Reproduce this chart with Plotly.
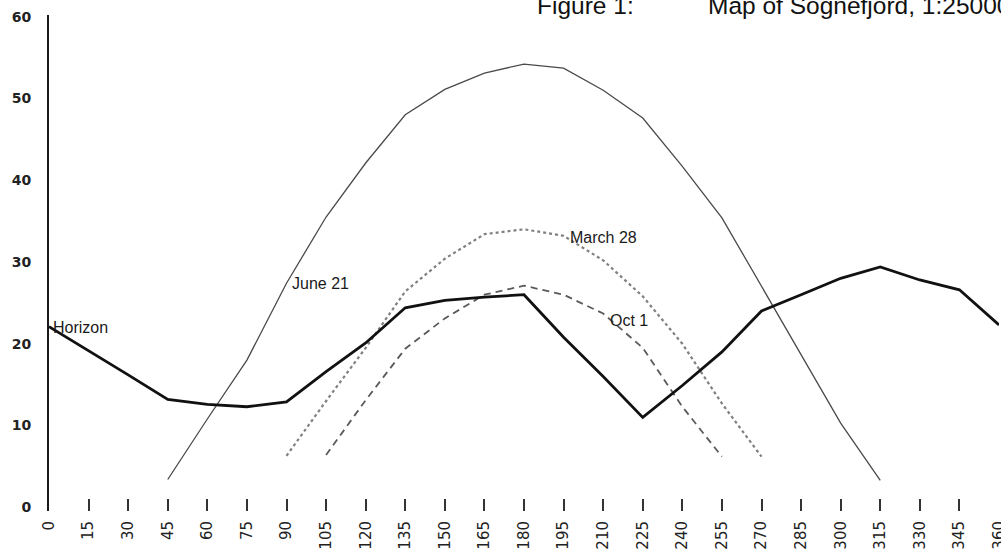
import plotly.graph_objects as go

# Azimuth (degrees) and horizon elevation (degrees)
azimuth = [0, 15, 30, 45, 60, 75, 90, 105, 120, 135, 150, 165, 180,
           195, 210, 225, 240, 255, 270, 285, 300, 315, 330, 345, 360]
horizon = [22.1, 19.2, 16.2, 13.2, 12.6, 12.3, 12.9, 16.6, 20.1, 24.4, 25.3, 25.7, 26.0,
           20.8, 16.0, 11.0, 14.9, 19.0, 24.0, 26.0, 28.0, 29.4, 27.8, 26.6, 22.3]

# Sun paths
june21_az = [45, 60, 75, 90, 105, 120, 135, 150, 165, 180, 195, 210, 225, 240, 255, 270, 285, 300, 315]
june21_el = [3.4, 10.8, 18.0, 27.4, 35.5, 42.1, 48.0, 51.1, 53.1, 54.2, 53.7, 51.0, 47.6, 41.7, 35.4, 27.0, 18.6, 10.3, 3.3]

march28_az = [90, 105, 120, 135, 150, 165, 180, 195, 210, 225, 240, 255, 270]
march28_el = [6.3, 13.0, 19.5, 26.4, 30.4, 33.4, 34.0, 33.2, 30.2, 25.8, 20.0, 12.7, 6.2]

oct1_az = [105, 120, 135, 150, 165, 180, 195, 210, 225, 240, 255]
oct1_el = [6.4, 13.1, 19.4, 23.1, 26.0, 27.1, 26.0, 23.7, 19.5, 12.3, 6.2]

x_ticks = azimuth
y_ticks = [0, 10, 20, 30, 40, 50, 60]

FONT = "Liberation Sans, Arial, sans-serif"

fig = go.Figure()
fig.add_trace(go.Scatter(x=june21_az, y=june21_el, mode="lines",
                         line=dict(color="#4a4a4a", width=1.3), cliponaxis=False))
fig.add_trace(go.Scatter(x=march28_az, y=march28_el, mode="lines",
                         line=dict(color="#808080", width=2.2, dash="dot"), cliponaxis=False))
fig.add_trace(go.Scatter(x=oct1_az, y=oct1_el, mode="lines",
                         line=dict(color="#5a5a5a", width=1.8, dash="7px,5px"), cliponaxis=False))
fig.add_trace(go.Scatter(x=azimuth, y=horizon, mode="lines",
                         line=dict(color="#111111", width=2.8), cliponaxis=False))

ann_font = dict(family=FONT, size=16, color="#1a1a1a")
for txt, ax, ay in [("Horizon", 1.5, 22.0), ("June 21", 92.1, 27.4),
                    ("March 28", 197.4, 33.0), ("Oct 1", 212.6, 22.9)]:
    fig.add_annotation(x=ax, y=ay, text=txt, showarrow=False, xanchor="left",
                       yanchor="middle", xshift=-2, font=ann_font)

title_font = dict(family=FONT, size=24.5, color="#111111")
fig.add_annotation(xref="paper", yref="paper", x=0.5115, y=1.019, text="Figure 1:",
                   showarrow=False, xanchor="left", yanchor="middle", font=title_font)
fig.add_annotation(xref="paper", yref="paper", x=0.6915, y=1.019, text="Map of Sognefjord, 1:25000",
                   showarrow=False, xanchor="left", yanchor="middle", font=title_font)

fig.update_xaxes(range=[0, 360], tickvals=x_ticks, ticktext=[str(v) for v in x_ticks],
                 tickangle=-90, ticks="inside", ticklen=12, tickwidth=1.5, tickcolor="#333333",
                 showgrid=False, zeroline=False, showline=False, automargin=False,
                 ticklabelstandoff=6, ticklabeloverflow="allow",
                 tickfont=dict(family="DejaVu Sans, sans-serif", size=15, color="#222222"))
fig.update_yaxes(range=[-0.45, 60.2], tickvals=y_ticks, ticks="",
                 showgrid=False, zeroline=False, showline=True, linewidth=2, linecolor="#1a1a1a",
                 ticklabelstandoff=13, automargin=False,
                 tickfont=dict(family="DejaVu Sans, sans-serif", size=14, color="#222222", weight="bold"))

fig.update_layout(width=1001, height=555, showlegend=False,
                  margin=dict(l=49, r=2, t=15.4, b=44.3, pad=0),
                  plot_bgcolor="white", paper_bgcolor="white")

fig.write_html("out.html", config={"displayModeBar": False},
               post_script="document.body.style.margin='0';")
